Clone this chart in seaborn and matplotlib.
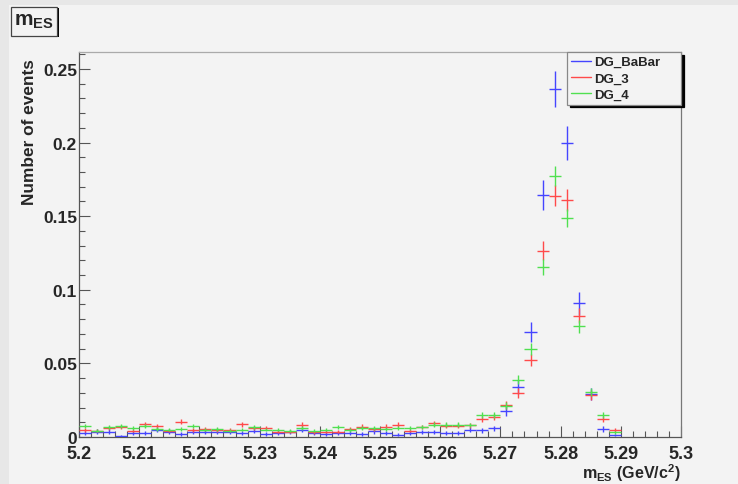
import numpy as np
import pandas as pd
import seaborn as sns
import matplotlib
matplotlib.use("Agg")
import matplotlib.pyplot as plt
from matplotlib.patches import Rectangle
from matplotlib.lines import Line2D
from matplotlib.ticker import MultipleLocator, FuncFormatter

# Histogram binning: 5.200 - 5.300 GeV/c^2 in 2 MeV bins (filled bins only)
bin_width = 0.002
bin_centers = [round(5.201 + bin_width * k, 3) for k in range(45)]

series_names = ["DG_BaBar", "DG_3", "DG_4"]

dg_babar = [0.0027, 0.0036, 0.0036, 0.0005, 0.0027, 0.0027, 0.0050, 0.0036, 0.0020, 0.0032,
            0.0032, 0.0036, 0.0032, 0.0027, 0.0043, 0.0020, 0.0027, 0.0032, 0.0050, 0.0027,
            0.0020, 0.0027, 0.0025, 0.0020, 0.0039, 0.0025, 0.0016, 0.0025, 0.0032, 0.0032,
            0.0025, 0.0025, 0.0050, 0.0045, 0.0058, 0.0175, 0.0338, 0.0711, 0.1644, 0.2364,
            0.1997, 0.0908, 0.0292, 0.0054, 0.0014]

dg_3 = [0.0050, 0.0043, 0.0059, 0.0066, 0.0043, 0.0088, 0.0073, 0.0043, 0.0104, 0.0050,
        0.0054, 0.0050, 0.0050, 0.0088, 0.0059, 0.0059, 0.0036, 0.0036, 0.0083, 0.0032,
        0.0036, 0.0036, 0.0054, 0.0070, 0.0054, 0.0070, 0.0084, 0.0043, 0.0066, 0.0093,
        0.0077, 0.0077, 0.0080, 0.0125, 0.0134, 0.0220, 0.0299, 0.0523, 0.1264, 0.1640,
        0.1610, 0.0824, 0.0285, 0.0122, 0.0050]

dg_4 = [0.0072, 0.0043, 0.0066, 0.0077, 0.0059, 0.0077, 0.0054, 0.0050, 0.0054, 0.0072,
        0.0050, 0.0054, 0.0043, 0.0050, 0.0066, 0.0050, 0.0050, 0.0043, 0.0059, 0.0043,
        0.0050, 0.0066, 0.0048, 0.0062, 0.0062, 0.0054, 0.0062, 0.0062, 0.0070, 0.0084,
        0.0084, 0.0084, 0.0080, 0.0152, 0.0152, 0.0213, 0.0389, 0.0598, 0.1153, 0.1775,
        0.1486, 0.0752, 0.0304, 0.0152, 0.0032]

# Per-event weight of each normalised sample (sets the Poisson error bars)
event_weight = [0.00066, 0.000334, 0.00026]

x_ticks_major = 0.01
y_ticks_major = 0.05

W, H = 738, 485


def fx(px):
    return px / W


def fy(py):
    return 1 - py / H


frames = []
for name, vals, w in zip(series_names, [dg_babar, dg_3, dg_4], event_weight):
    v = np.array(vals)
    frames.append(pd.DataFrame({"mES": bin_centers, "events": v,
                                "err": np.sqrt(v * w), "sample": name}))
data = pd.concat(frames, ignore_index=True)

sns.set_theme(style="ticks")
palette = dict(zip(series_names, ["#4545ff", "#ff4a4a", "#50e050"]))
plt.rcParams["font.family"] = ["Liberation Sans", "DejaVu Sans"]
plt.rcParams["font.weight"] = "bold"
plt.rcParams["mathtext.fontset"] = "custom"
plt.rcParams["mathtext.rm"] = "Liberation Sans:bold"
plt.rcParams["mathtext.it"] = "Liberation Sans:bold"
plt.rcParams["mathtext.bf"] = "Liberation Sans:bold"

bg = "#f3f3f3"
fig = plt.figure(figsize=(W / 100, H / 100), dpi=100, facecolor=bg)

# canvas edge strips
fig.patches.append(Rectangle((0, fy(6)), 1, 6 / H, transform=fig.transFigure,
                             facecolor="#e7e7e7", edgecolor="none", zorder=0))
fig.patches.append(Rectangle((0, 0), fx(9), 1, transform=fig.transFigure,
                             facecolor="#e7e7e7", edgecolor="none", zorder=0))

ax = fig.add_axes([fx(79), fy(438), (681 - 79) / W, (438 - 53) / H], facecolor=bg)

for name in series_names:
    d = data[data["sample"] == name]
    ax.errorbar(d["mES"], d["events"], xerr=bin_width / 2, yerr=d["err"],
                fmt="none", ecolor=palette[name], elinewidth=1.0, capsize=0, zorder=3)

ax.set_xlim(5.2, 5.3)
ax.set_ylim(0, 0.2615)
ax.xaxis.set_major_locator(MultipleLocator(x_ticks_major))
ax.xaxis.set_minor_locator(MultipleLocator(bin_width))
ax.yaxis.set_major_locator(MultipleLocator(y_ticks_major))
ax.yaxis.set_minor_locator(MultipleLocator(0.01))
fmt = FuncFormatter(lambda v, p: f"{round(v, 3):g}")
ax.xaxis.set_major_formatter(fmt)
ax.yaxis.set_major_formatter(fmt)

ax.tick_params(which="both", direction="in", color="#555555", width=0.8,
               top=False, right=False)
ax.tick_params(which="major", length=8)
ax.tick_params(which="minor", length=4.5)
ax.tick_params(axis="y", pad=1.5, labelsize=12.5)
ax.tick_params(axis="x", pad=5.8, labelsize=13)
for lab in ax.get_xticklabels() + ax.get_yticklabels():
    lab.set_fontweight("bold")

ax.spines["left"].set_color("#555555")
ax.spines["bottom"].set_color("#555555")
ax.spines["right"].set_color("#777777")
ax.spines["top"].set_color("#aaaaaa")
for s in ax.spines.values():
    s.set_linewidth(0.9)
ax.grid(False)

# axis titles
fig.text(fx(30), fy(59), "Number of events", rotation=90, ha="center", va="top",
         fontsize=12.4, fontweight="bold")
fig.text(fx(681), fy(479.5), r"$m_{ES}$ (GeV/c$^{2}$)", ha="right", va="baseline",
         fontsize=11.6, fontweight="bold")

# histogram title box
fig.patches.append(Rectangle((fx(12.5), fy(38)), 46 / W, 29 / H, transform=fig.transFigure,
                             facecolor="black", edgecolor="none", zorder=1))
fig.patches.append(Rectangle((fx(11), fy(36.5)), 46 / W, 29 / H, transform=fig.transFigure,
                             facecolor=bg, edgecolor="#444444", linewidth=0.9, zorder=2))
fig.text(fx(34), fy(22), r"$m_{ES}$", fontsize=15, ha="center", va="center", zorder=3)

# legend
handles = [Line2D([], [], color=palette[n], lw=1.0) for n in series_names]
leg = ax.legend(handles, series_names, loc="upper left",
                bbox_to_anchor=(fx(567), fy(101), 114 / W, 48 / H),
                bbox_transform=fig.transFigure, mode="expand", borderaxespad=0,
                prop={"weight": "bold", "size": 9.5},
                handlelength=1.5, handletextpad=0.25, labelspacing=0.3,
                borderpad=0.3, fancybox=False, framealpha=1,
                shadow={"facecolor": "black", "edgecolor": "black", "alpha": 1})
leg.get_frame().set_facecolor(bg)
leg.get_frame().set_edgecolor("#888888")
leg.get_frame().set_linewidth(0.9)
leg.set_zorder(5)

fig.savefig("out.png", dpi=100, facecolor=bg)
